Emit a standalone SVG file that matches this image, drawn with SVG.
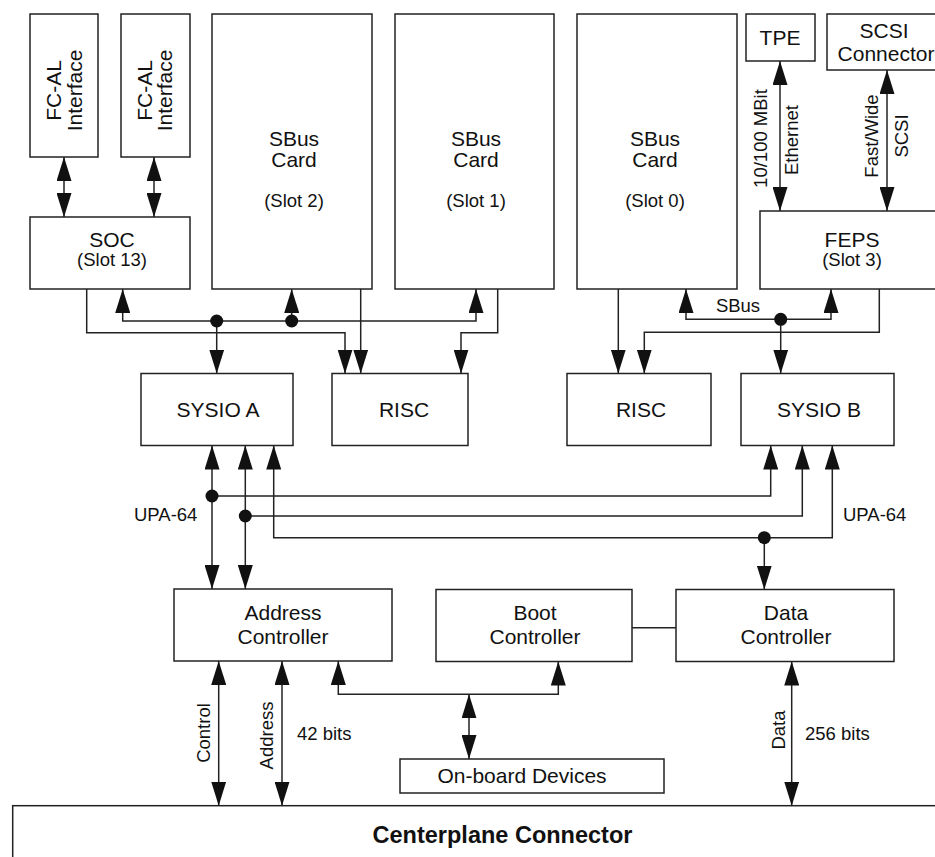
<svg xmlns="http://www.w3.org/2000/svg" width="935" height="857" viewBox="0 0 935 857">
<style>
.box{fill:#fff;stroke:#222;stroke-width:1.5}
.ln{fill:none;stroke:#222;stroke-width:1.5}
.ar{marker-end:url(#ah)}
.da{marker-start:url(#ah);marker-end:url(#ah)}
.dot{fill:#111}
text{font-family:"Liberation Sans",Arial,Helvetica,sans-serif;font-size:21px;fill:#111;text-anchor:middle}
.s{font-size:18.5px}
.l{font-size:18.5px;text-anchor:start}
.b{font-weight:bold;font-size:23.5px}
</style>
<defs>
<marker id="ah" markerUnits="userSpaceOnUse" markerWidth="24" markerHeight="15" refX="24" refY="7.5" orient="auto-start-reverse" viewBox="0 0 24 15">
<path d="M0,0 L24,7.5 L0,15 z" fill="#111"/>
</marker>
</defs>

<g id="fcal1"><rect class="box" x="30" y="14" width="68" height="143"/>
<text transform="rotate(-90 60.5 90.5)" x="60.5" y="90.5">FC-AL</text>
<text transform="rotate(-90 81.5 90.5)" x="81.5" y="90.5">Interface</text></g>
<g id="fcal2"><rect class="box" x="121" y="14" width="69" height="143"/>
<text transform="rotate(-90 151.5 90.5)" x="151.5" y="90.5">FC-AL</text>
<text transform="rotate(-90 172 90.5)" x="172" y="90.5">Interface</text></g>
<g id="soc"><rect class="box" x="30" y="217" width="160" height="72"/>
<text x="112" y="247">SOC</text><text class="s" x="112" y="266">(Slot 13)</text></g>
<g id="sbus2"><rect class="box" x="212" y="14" width="160" height="275"/>
<text x="294" y="146">SBus</text><text x="294" y="167">Card</text><text class="s" x="294" y="207">(Slot 2)</text></g>
<g id="sbus1"><rect class="box" x="395" y="14" width="159" height="275"/>
<text x="476" y="146">SBus</text><text x="476" y="167">Card</text><text class="s" x="476" y="207">(Slot 1)</text></g>
<g id="sbus0"><rect class="box" x="577" y="14" width="160" height="275"/>
<text x="655" y="146">SBus</text><text x="655" y="167">Card</text><text class="s" x="655" y="207">(Slot 0)</text></g>
<g id="tpe"><rect class="box" x="746" y="14" width="69" height="47"/>
<text x="780" y="45">TPE</text></g>
<g id="scsi"><rect class="box" x="827" y="14" width="120" height="56"/>
<text x="884" y="38">SCSI</text><text x="886" y="61">Connector</text></g>
<g id="feps"><rect class="box" x="760" y="211" width="190" height="78"/>
<text x="852" y="247">FEPS</text><text class="s" x="852" y="266">(Slot 3)</text></g>
<g id="sysioa"><rect class="box" x="141" y="373.5" width="152" height="72"/>
<text x="218" y="417">SYSIO A</text></g>
<g id="risc1"><rect class="box" x="332" y="373.5" width="136" height="72"/>
<text x="404" y="417">RISC</text></g>
<g id="risc2"><rect class="box" x="567" y="373.5" width="144" height="72"/>
<text x="641" y="417">RISC</text></g>
<g id="sysiob"><rect class="box" x="741" y="373.5" width="153" height="72"/>
<text x="819" y="417">SYSIO B</text></g>
<g id="addr"><rect class="box" x="174" y="589" width="218" height="72"/>
<text x="283" y="619.5">Address</text><text x="283" y="643.5">Controller</text></g>
<g id="boot"><rect class="box" x="436" y="589.5" width="196" height="72"/>
<text x="535" y="619.5">Boot</text><text x="535" y="643.5">Controller</text></g>
<g id="data"><rect class="box" x="676" y="589.5" width="218" height="72"/>
<text x="786" y="619.5">Data</text><text x="786" y="643.5">Controller</text></g>
<g id="onboard"><rect class="box" x="400" y="759" width="264" height="34"/>
<text x="522" y="783">On-board Devices</text></g>
<g id="centerplane"><rect class="box" x="12.7" y="805.7" width="940" height="100"/>
<text class="b" x="502.5" y="843">Centerplane Connector</text></g>

<g id="connectors">
<line class="ln da" x1="64" y1="157" x2="64" y2="217"/>
<line class="ln da" x1="154" y1="157" x2="154" y2="217"/>
<line class="ln da" x1="780" y1="61" x2="780" y2="211"/>
<line class="ln da" x1="887" y1="70" x2="887" y2="211"/>
<path class="ln ar" d="M86.7,289 V332.7 H345 V373.5"/>
<path class="ln ar" d="M216.7,321 H122.7 V289"/>
<path class="ln ar" d="M216.7,321 H476 V289"/>
<path class="ln ar" d="M291.7,321 V289"/>
<path class="ln ar" d="M216.7,321 V373.5"/>
<path class="ln ar" d="M360.7,289 V373.5"/>
<path class="ln ar" d="M497.7,289 V332.7 H461 V373.5"/>
<circle class="dot" cx="216.7" cy="321" r="6.5"/>
<circle class="dot" cx="291.7" cy="321" r="6.5"/>
<path class="ln ar" d="M618.3,289 V373.5"/>
<path class="ln ar" d="M780.7,319.3 H686 V289"/>
<path class="ln ar" d="M780.7,319.3 H831 V289"/>
<path class="ln ar" d="M780.7,319.3 V373.5"/>
<path class="ln ar" d="M879.3,289 V332.3 H644.3 V373.5"/>
<circle class="dot" cx="780.7" cy="319.3" r="6.5"/>
<line class="ln da" x1="212" y1="445.5" x2="212" y2="589"/>
<line class="ln da" x1="245.3" y1="445.5" x2="245.3" y2="589"/>
<path class="ln ar" d="M212,496 H770.7 V445.5"/>
<path class="ln ar" d="M245.3,516 H802.3 V445.5"/>
<path class="ln da" d="M832.3,445.5 V537.7 H273.7 V445.5"/>
<path class="ln ar" d="M764.3,537.7 V589.5"/>
<circle class="dot" cx="212" cy="496" r="6.5"/>
<circle class="dot" cx="245.3" cy="516" r="6.5"/>
<circle class="dot" cx="764.3" cy="537.7" r="6.5"/>
<line class="ln" x1="632" y1="627.7" x2="676" y2="627.7"/>
<path class="ln da" d="M338.3,661 V694.3 H558.3 V661.5"/>
<line class="ln da" x1="469" y1="694.3" x2="469" y2="759"/>
<line class="ln da" x1="218.7" y1="661" x2="218.7" y2="805.7"/>
<line class="ln da" x1="282" y1="661" x2="282" y2="805.7"/>
<line class="ln da" x1="791.7" y1="661.5" x2="791.7" y2="805.7"/>
</g>

<g id="labels">
<text class="s" transform="rotate(-90 767 138.5)" x="767" y="138.5">10/100 MBit</text>
<text class="s" transform="rotate(-90 798 140)" x="798" y="140">Ethernet</text>
<text class="s" transform="rotate(-90 877.5 136)" x="877.5" y="136">Fast/Wide</text>
<text class="s" transform="rotate(-90 908 136)" x="908" y="136">SCSI</text>
<text class="s" x="738" y="312">SBus</text>
<text class="l" x="134" y="521">UPA-64</text>
<text class="l" x="843" y="521">UPA-64</text>
<text class="s" transform="rotate(-90 209.5 733)" x="209.5" y="733">Control</text>
<text class="s" transform="rotate(-90 273 735.5)" x="273" y="735.5">Address</text>
<text class="l" x="297" y="740">42 bits</text>
<text class="s" transform="rotate(-90 785 730)" x="785" y="730">Data</text>
<text class="l" x="805" y="740">256 bits</text>
</g>
</svg>
